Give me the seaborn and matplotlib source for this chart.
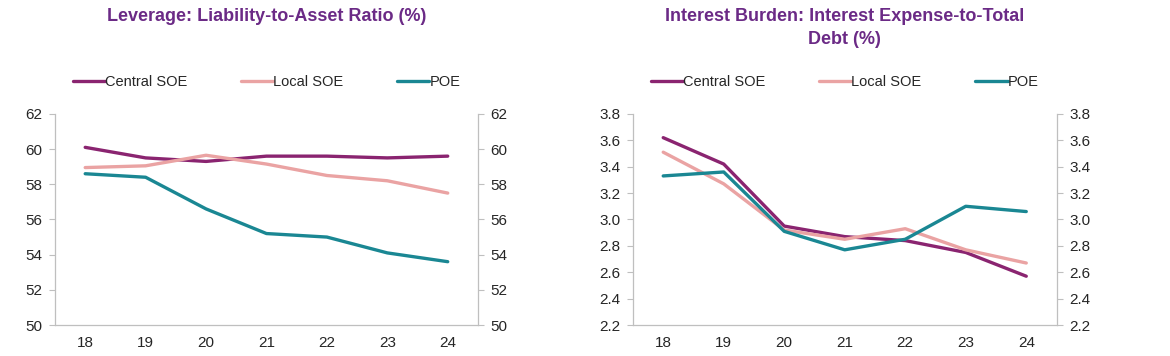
import pandas as pd
import seaborn as sns
import matplotlib.pyplot as plt

# anos (rótulos do eixo x)
anos = ['18', '19', '20', '21', '22', '23', '24']
series = ['Central SOE', 'Local SOE', 'POE']

# Alavancagem: passivo / ativo (%)
lev_central = [60.1, 59.5, 59.3, 59.6, 59.6, 59.5, 59.6]
lev_local = [58.95, 59.05, 59.65, 59.15, 58.5, 58.2, 57.5]
lev_poe = [58.6, 58.4, 56.6, 55.2, 55.0, 54.1, 53.6]

# Custo de juros: despesa de juros / dívida total (%)
int_central = [3.62, 3.42, 2.95, 2.87, 2.84, 2.75, 2.57]
int_local = [3.51, 3.27, 2.92, 2.85, 2.93, 2.77, 2.67]
int_poe = [3.33, 3.36, 2.91, 2.77, 2.85, 3.10, 3.06]

cores = {'Central SOE': '#8a2470', 'Local SOE': '#eaa3a3', 'POE': '#1a8793'}
cor_titulo = '#6b2a86'


def monta_df(a, b, c):
    partes = []
    for nome, vals in zip(series, [a, b, c]):
        partes.append(pd.DataFrame({'ano': range(len(anos)), 'valor': vals, 'serie': nome}))
    return pd.concat(partes, ignore_index=True)


sns.set_style('white')
plt.rcParams['font.family'] = ['Liberation Sans', 'DejaVu Sans']

fig = plt.figure(figsize=(11.7, 3.56), dpi=100)
ax1 = fig.add_axes([0.047, 0.087, 0.3615, 0.593])
ax2 = fig.add_axes([0.541, 0.087, 0.362, 0.593])

configs = [
    (ax1, monta_df(lev_central, lev_local, lev_poe), (50, 62), [50, 52, 54, 56, 58, 60, 62],
     'Leverage: Liability-to-Asset Ratio (%)', lambda v: f'{v:.0f}'),
    (ax2, monta_df(int_central, int_local, int_poe), (2.2, 3.8),
     [2.2, 2.4, 2.6, 2.8, 3.0, 3.2, 3.4, 3.6, 3.8],
     'Interest Burden: Interest Expense-to-Total\nDebt (%)', lambda v: f'{v:.1f}'),
]

for ax, df, ylim, yticks, titulo, fmt in configs:
    sns.lineplot(data=df, x='ano', y='valor', hue='serie', palette=cores, linewidth=2.4, ax=ax)
    ax.set_xlim(-0.5, 6.5)
    ax.set_ylim(*ylim)
    ax.set_yticks(yticks)
    ax.set_yticklabels([fmt(v) for v in yticks], fontsize=11)
    ax.set_xticks(range(len(anos)))
    ax.set_xticklabels(anos, fontsize=11)
    ax.set_xticks([i + 0.5 for i in range(-1, len(anos))], minor=True)
    ax.tick_params(axis='x', which='major', length=0, pad=8)
    ax.tick_params(axis='x', which='minor', length=4, color='#bfbfbf')
    ax.tick_params(axis='y', length=4, color='#bfbfbf', pad=5)
    ax.set_xlabel('')
    ax.set_ylabel('')
    for lado in ['left', 'right', 'bottom']:
        ax.spines[lado].set_color('#bfbfbf')
        ax.spines[lado].set_linewidth(0.9)
    ax.spines['top'].set_visible(False)

    # eixo da direita com os mesmos rótulos
    ax_dir = ax.twinx()
    ax_dir.set_ylim(*ylim)
    ax_dir.set_yticks(yticks)
    ax_dir.set_yticklabels([fmt(v) for v in yticks], fontsize=11)
    ax_dir.tick_params(axis='y', length=4, color='#bfbfbf', pad=5)
    for lado in ['left', 'right', 'bottom', 'top']:
        ax_dir.spines[lado].set_visible(False)

    ax.legend(loc='center', bbox_to_anchor=(0.5, 1.152), ncol=3, frameon=False,
              fontsize=10.5, handlelength=2.2, handletextpad=0.0, columnspacing=3.7,
              borderaxespad=0)

    # título centralizado sobre o eixo
    pos = ax.get_position()
    fig.text((pos.x0 + pos.x1) / 2, 1 - 8 / 356, titulo, ha='center', va='top',
             fontsize=13, fontweight='bold', color=cor_titulo, linespacing=1.45)

fig.savefig('out.png', dpi=100, facecolor='white')
